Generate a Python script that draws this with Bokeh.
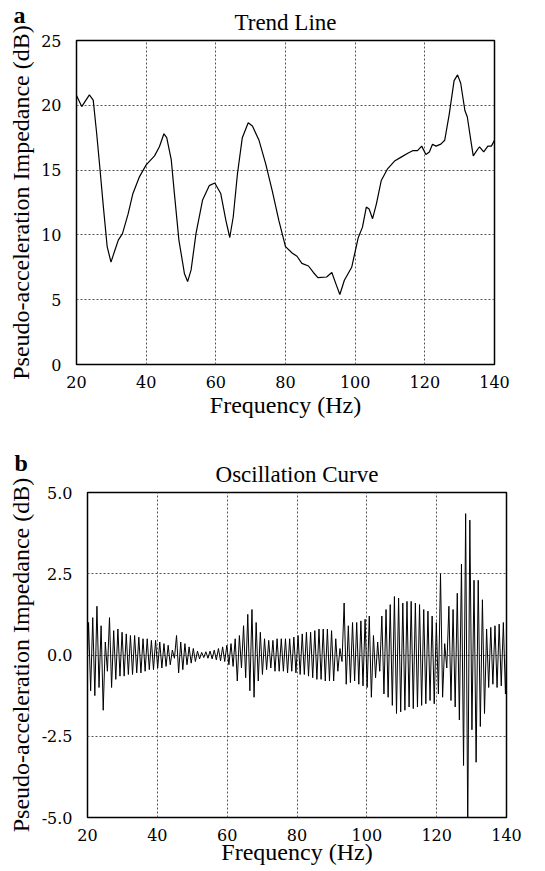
from bokeh.plotting import figure
from bokeh.models import Range1d, FixedTicker, PrintfTickFormatter, Title
from bokeh.embed import file_html
from bokeh.resources import INLINE
import numpy as np

# ---------------- data ----------------
trend_freq = [20.0, 21.5, 23.7, 24.8, 25.8, 26.7, 27.7, 28.8, 29.9, 31.0, 32.0, 33.2, 34.8, 36.2,
              38.1, 40.0, 42.4, 43.8, 45.1, 45.9, 47.2, 48.1, 49.4, 51.0, 51.9, 52.9, 54.3, 56.2,
              58.1, 59.7, 61.4, 62.9, 64.0, 65.0, 66.2, 67.6, 69.3, 70.5, 72.4, 74.3, 76.2, 78.1,
              80.0, 81.9, 83.3, 84.7, 86.6, 88.0, 89.3, 91.8, 93.3, 94.5, 95.6, 96.9, 99.0, 99.9,
              100.9, 102.1, 103.2, 104.0, 105.0, 106.1, 107.5, 109.3, 111.3, 113.2, 115.1, 116.5,
              117.9, 119.1, 120.3, 121.3, 122.2, 123.2, 124.6, 125.7, 127.0, 128.4, 129.4, 130.3,
              131.5, 132.2, 133.2, 133.9, 134.9, 135.7, 136.9, 138.1, 139.1, 140.0]
trend_db = [20.76, 19.9, 20.8, 20.4, 17.8, 15.2, 12.2, 9.1, 7.9, 8.8, 9.6, 10.1, 11.6, 13.2,
            14.5, 15.4, 16.1, 16.8, 17.8, 17.5, 15.8, 13.2, 9.6, 7.0, 6.4, 7.3, 10.1, 12.7,
            13.8, 14.0, 13.2, 11.1, 9.8, 11.4, 14.7, 17.5, 18.65, 18.4, 17.3, 15.5, 13.4, 11.1,
            9.1, 8.6, 8.35, 7.8, 7.6, 7.1, 6.7, 6.75, 7.1, 6.2, 5.4, 6.5, 7.5, 8.6,
            9.8, 10.6, 12.15, 12.0, 11.25, 12.4, 14.2, 15.1, 15.7, 16.0, 16.3, 16.5,
            16.5, 16.85, 16.2, 16.4, 17.0, 16.85, 17.0, 17.3, 19.3, 21.9, 22.35, 21.7,
            19.6, 19.1, 17.3, 16.1, 16.5, 16.8, 16.4, 16.85, 16.85, 17.3]

# oscillation: per-cycle maxima and minima (cycle width ~1.2 Hz, starting at 20 Hz)
osc_max = [1.0, 1.15, 1.5, 0.9, 0.4, 1.15, 0.75, 0.8, 0.7, 0.65,
           0.6, 0.6, 0.55, 0.5, 0.5, 0.45, 0.45, 0.4, 0.35, 0.3,
           0.15, 0.6, 0.4, 0.35, 0.25, 0.2, 0.12, 0.08, 0.1, 0.12,
           0.15, 0.2, 0.25, 0.3, 0.35, 0.5, 0.6, 0.9, 1.25, 1.4,
           1.0, 0.7, 0.5, 0.45, 0.45, 0.5, 0.5, 0.5, 0.5, 0.55,
           0.6, 0.65, 0.7, 0.7, 0.75, 0.8, 0.8, 0.8, 0.75, 0.5,
           0.2, 1.6, 0.9, 1.0, 1.0, 1.05, 1.1, 1.2, 0.6, 0.4,
           1.2, 1.4, 1.55, 1.8, 1.75, 1.6, 1.65, 1.65, 1.6, 1.55,
           1.4, 1.35, 1.2, 1.0, 2.5, 0.35, 1.5, 1.4, 1.9, 2.8,
           4.35, 4.15, 2.3, 2.3, 1.7, 0.8, 0.85, 0.9, 0.95, 1.0]
osc_min = [-1.1, -1.25, -1.0, -1.7, -0.5, -1.0, -0.75, -0.65, -0.65, -0.6,
           -0.6, -0.55, -0.55, -0.5, -0.45, -0.45, -0.4, -0.4, -0.35, -0.3,
           -0.1, -0.55, -0.45, -0.3, -0.25, -0.2, -0.12, -0.08, -0.1, -0.12,
           -0.15, -0.18, -0.2, -0.3, -0.35, -0.8, -0.4, -0.7, -1.1, -1.3,
           -0.8, -0.6, -0.45, -0.4, -0.5, -0.5, -0.5, -0.55, -0.5, -0.55,
           -0.6, -0.6, -0.65, -0.7, -0.75, -0.75, -0.8, -0.8, -0.8, -0.5,
           -0.2, -0.9, -0.85, -0.8, -0.9, -0.95, -1.0, -1.3, -0.7, -0.5,
           -1.2, -1.3, -1.55, -1.8, -1.75, -1.7, -1.6, -1.65, -1.6, -1.55,
           -1.5, -1.4, -1.5, -1.2, -1.3, -0.4, -1.4, -1.6, -2.0, -3.4,
           -5.3, -2.3, -3.3, -2.2, -1.8, -1.0, -0.9, -1.0, -0.95, -1.2]
osc_cycle_hz = 1.2

trend_yticks = [0, 5, 10, 15, 20, 25]
osc_yticks = [-5.0, -2.5, 0.0, 2.5, 5.0]
xticks = [20, 40, 60, 80, 100, 120, 140]

SERIF = "Liberation Serif"
TICK_FONT = "DejaVu Serif"
XLABEL = "Frequency (Hz)"
YLABEL = "Pseudo-acceleration Impedance (dB)"


def style(p, yticks, xlabel_standoff, ylabel_standoff):
    p.outline_line_color = "black"
    p.outline_line_width = 1.5
    p.background_fill_color = "white"
    p.border_fill_color = "white"
    p.xaxis.ticker = FixedTicker(ticks=xticks)
    p.yaxis.ticker = FixedTicker(ticks=yticks)
    for ax in list(p.xaxis) + list(p.yaxis):
        ax.axis_line_color = None
        ax.major_tick_line_color = None
        ax.minor_tick_line_color = None
        ax.major_label_text_font = TICK_FONT
        ax.major_label_text_font_size = "16px"
        ax.major_label_text_font_style = "normal"
        ax.major_label_text_color = "black"
    p.xaxis.major_label_standoff = 5
    p.yaxis.major_label_standoff = 9
    p.grid.grid_line_color = "#555555"
    p.grid.grid_line_dash = "2 2"
    p.grid.grid_line_width = 1
    # axis titles drawn as plot titles so that they use the serif face
    p.add_layout(Title(text=XLABEL, align="center", standoff=xlabel_standoff,
                       text_font=SERIF, text_font_size="24px", text_font_style="normal",
                       text_color="black"), "below")
    p.add_layout(Title(text=YLABEL, align="center", standoff=ylabel_standoff,
                       text_font=SERIF, text_font_size="24px", text_font_style="normal",
                       text_color="black"), "left")


def add_titles(p, main, letter, letter_offset, letter_standoff):
    p.add_layout(Title(text=main, align="center", standoff=12,
                       text_font=SERIF, text_font_size="23px", text_font_style="normal",
                       text_color="black"), "above")
    p.add_layout(Title(text=letter, align="left", offset=letter_offset, standoff=letter_standoff,
                       text_font=SERIF, text_font_size="24px", text_font_style="bold",
                       text_color="black"), "above")


# ---------------- top panel ----------------
p1 = figure(width=545, height=420, output_backend="svg", toolbar_location=None,
            x_range=Range1d(20, 140), y_range=Range1d(0, 25),
            min_border_left=73, min_border_right=51, min_border_top=40, min_border_bottom=56)
style(p1, trend_yticks, -1, 10)
p1.line(trend_freq, trend_db, line_color="black", line_width=1.2)
add_titles(p1, "Trend Line", "a", -63, -53)

# ---------------- bottom panel ----------------
n = len(osc_max)
start = np.arange(n) * osc_cycle_hz + 20.0
osc_freq = np.empty(2 * n)
osc_val = np.empty(2 * n)
osc_freq[0::2] = start + 0.25 * osc_cycle_hz
osc_freq[1::2] = start + 0.75 * osc_cycle_hz
osc_val[0::2] = osc_max
osc_val[1::2] = osc_min
osc_freq = np.concatenate([[20.0], osc_freq, [140.0]])
osc_val = np.concatenate([[0.0], osc_val, [0.0]])

p2 = figure(width=545, height=451, output_backend="svg", toolbar_location=None,
            x_range=Range1d(20, 140), y_range=Range1d(-5, 5),
            min_border_left=84, min_border_right=39, min_border_top=72, min_border_bottom=54)
style(p2, osc_yticks, -14, 10)
p2.yaxis.formatter = PrintfTickFormatter(format="%.1f")
p2.line(osc_freq, osc_val, line_color="black", line_width=1.0)
add_titles(p2, "Oscillation Curve", "b", -73, -45)

open("out.html", "w").write(file_html([p1, p2], INLINE))
